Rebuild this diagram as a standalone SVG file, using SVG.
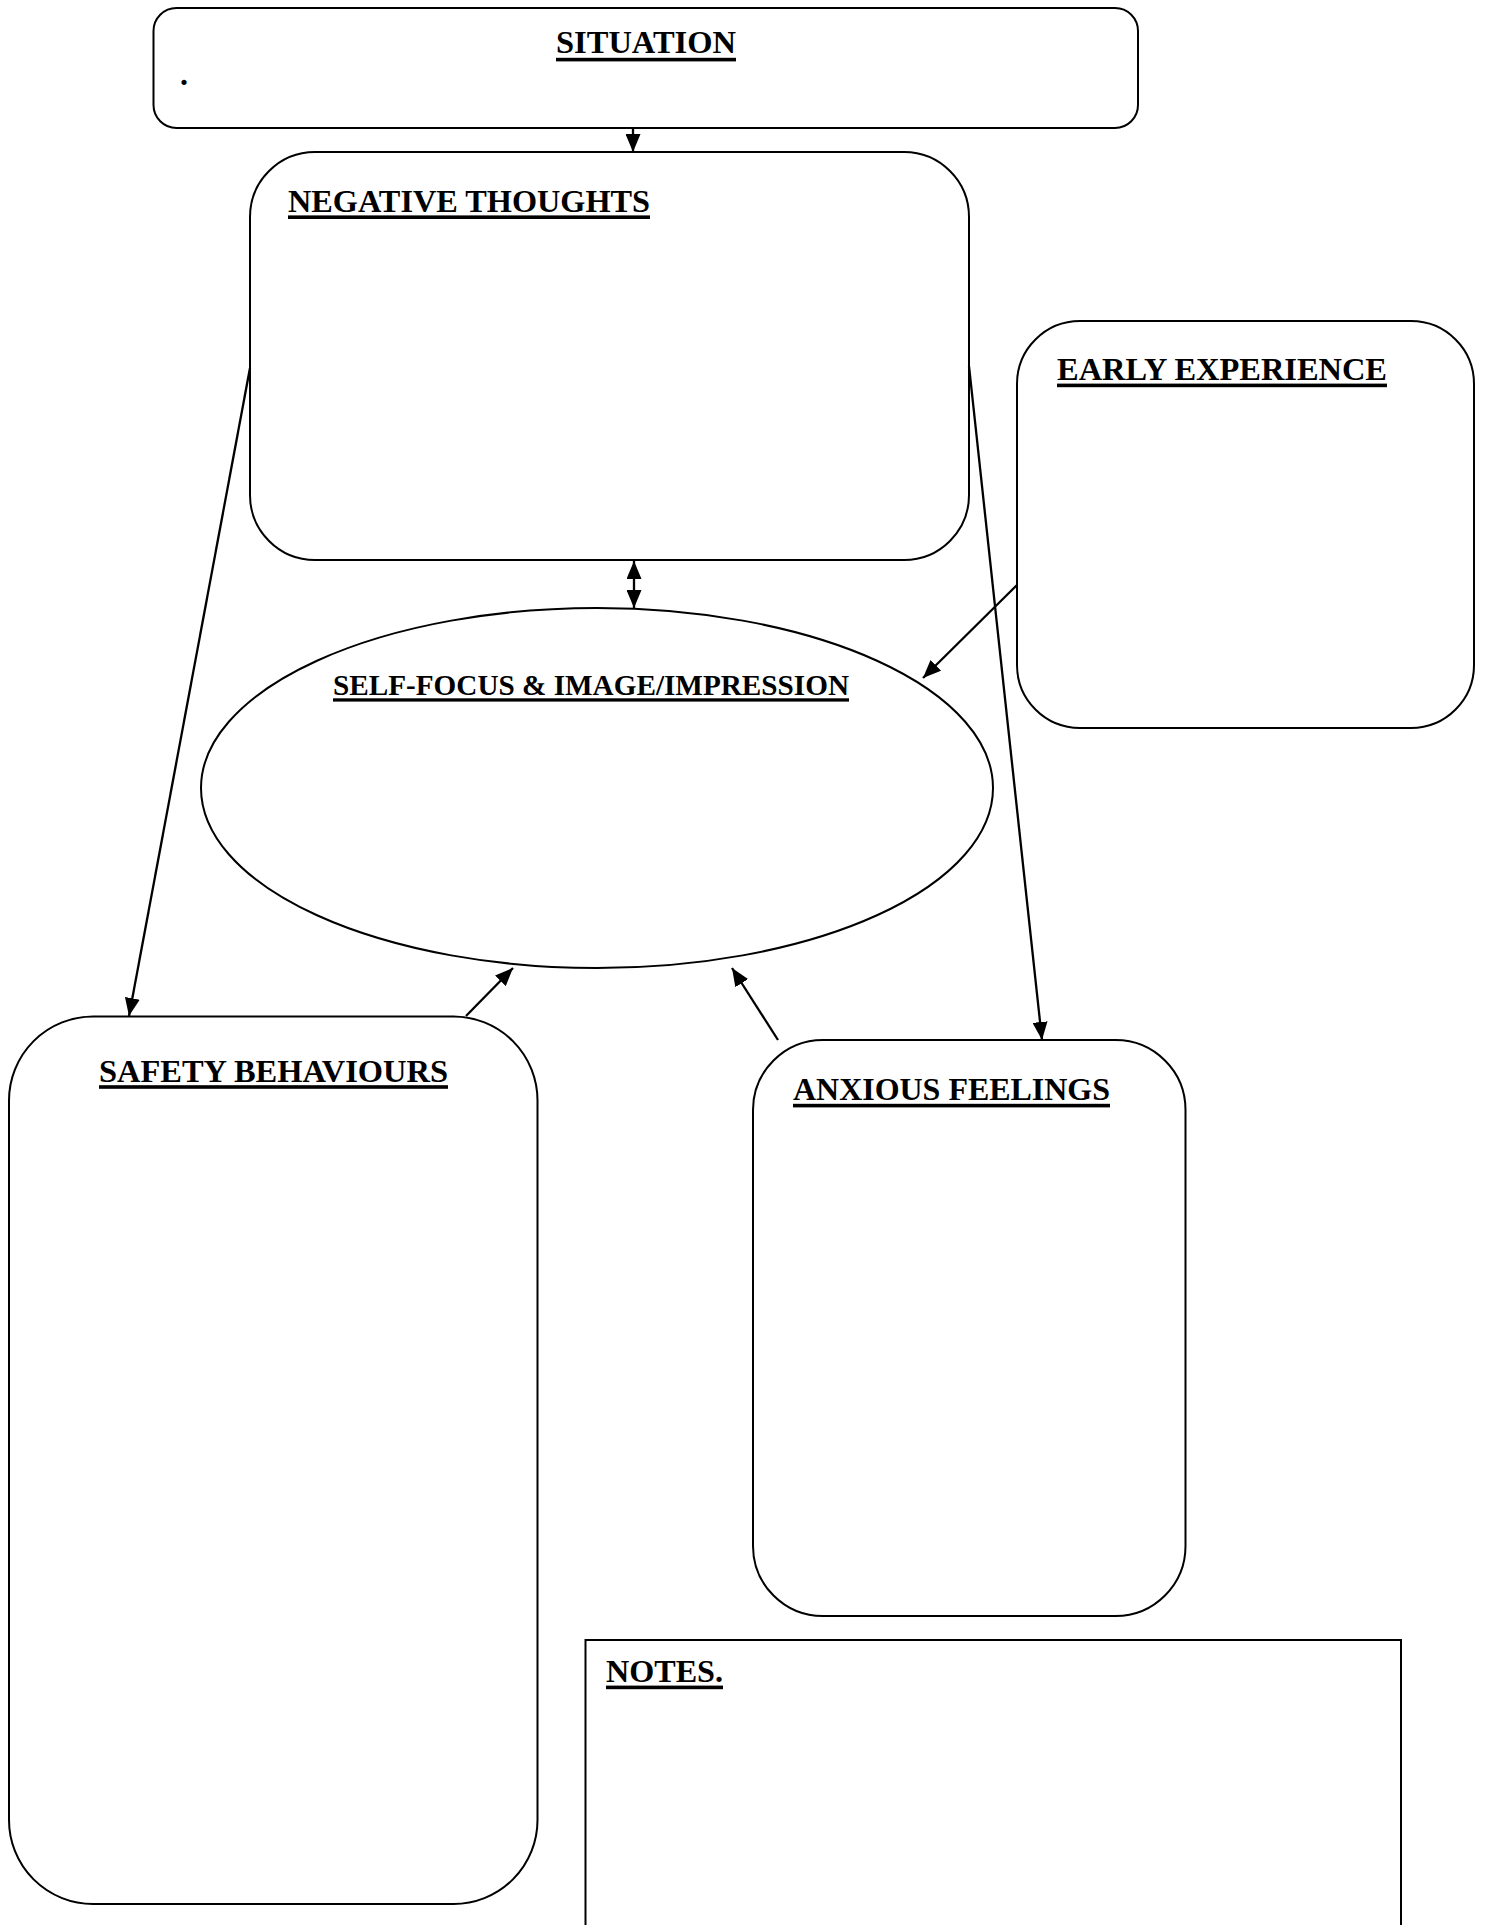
<svg xmlns="http://www.w3.org/2000/svg" width="1489" height="1925" viewBox="0 0 1489 1925">
  <style>
    .box { fill: #ffffff; stroke: #000000; stroke-width: 2; }
    .title { font-family: "Liberation Serif", "Times New Roman", serif; font-weight: bold; font-size: 32px; fill: #000000; }
    .uline { fill: #000000; }
    .link { stroke: #000000; stroke-width: 2.3; fill: none; }
  </style>
  <defs>
    <marker id="head" markerUnits="userSpaceOnUse" markerWidth="18" markerHeight="15" refX="18" refY="7.5" orient="auto-start-reverse">
      <path d="M0,0 L18,7.5 L0,15 z" fill="#000000"/>
    </marker>
  </defs>
  <rect width="1489" height="1925" fill="#ffffff"/>

  <!-- Situation -->
  <g id="situation">
    <rect class="box" x="153.5" y="8" width="984.5" height="120" rx="23" ry="23"/>
    <text class="title" x="556" y="53" textLength="180" lengthAdjust="spacingAndGlyphs">SITUATION</text>
    <rect class="uline" x="556" y="57.8" width="180" height="3.6"/>
    <text x="180" y="85" font-family="'Liberation Serif', 'Times New Roman', serif" font-size="32" font-weight="bold" fill="#000000">.</text>
  </g>

  <!-- Negative thoughts -->
  <g id="negative-thoughts">
    <rect class="box" x="250" y="152" width="719" height="408" rx="65" ry="65"/>
    <text class="title" x="288" y="211.7" textLength="362" lengthAdjust="spacingAndGlyphs">NEGATIVE THOUGHTS</text>
    <rect class="uline" x="288" y="215.4" width="362" height="3.6"/>
  </g>

  <!-- Early experience -->
  <g id="early-experience">
    <rect class="box" x="1017" y="321" width="457" height="407" rx="63" ry="63"/>
    <text class="title" x="1057" y="380" textLength="330" lengthAdjust="spacingAndGlyphs">EARLY EXPERIENCE</text>
    <rect class="uline" x="1057" y="383.6" width="330" height="3.6"/>
  </g>

  <!-- Self-focus ellipse -->
  <g id="self-focus">
    <ellipse class="box" cx="597" cy="788" rx="396" ry="180"/>
    <text class="title" x="333" y="695" style="font-size:29px" textLength="516" lengthAdjust="spacingAndGlyphs">SELF-FOCUS &amp; IMAGE/IMPRESSION</text>
    <rect class="uline" x="333" y="698.3" width="516" height="3.3"/>
  </g>

  <!-- Safety behaviours -->
  <g id="safety-behaviours">
    <rect class="box" x="9" y="1016.5" width="528.5" height="887.5" rx="84" ry="84"/>
    <text class="title" x="99" y="1081.7" textLength="349" lengthAdjust="spacingAndGlyphs">SAFETY BEHAVIOURS</text>
    <rect class="uline" x="99" y="1085.2" width="349" height="3.6"/>
  </g>

  <!-- Anxious feelings -->
  <g id="anxious-feelings">
    <rect class="box" x="753" y="1040" width="432.5" height="576" rx="70" ry="70"/>
    <text class="title" x="793" y="1100" textLength="317" lengthAdjust="spacingAndGlyphs">ANXIOUS FEELINGS</text>
    <rect class="uline" x="793" y="1103.8" width="317" height="3.6"/>
  </g>

  <!-- Notes -->
  <g id="notes">
    <rect class="box" x="585.5" y="1640" width="815.5" height="300"/>
    <text class="title" x="606" y="1681.7" textLength="117" lengthAdjust="spacingAndGlyphs">NOTES.</text>
    <rect class="uline" x="606" y="1685.6" width="117" height="3.6"/>
  </g>

  <!-- Connectors -->
  <g id="connectors">
    <line class="link" x1="633" y1="128" x2="633" y2="152" marker-end="url(#head)"/>
    <line class="link" x1="634" y1="561" x2="634" y2="608" marker-start="url(#head)" marker-end="url(#head)"/>
    <line class="link" x1="250" y1="368" x2="129" y2="1016" marker-end="url(#head)"/>
    <line class="link" x1="969" y1="366" x2="1042" y2="1040" marker-end="url(#head)"/>
    <line class="link" x1="1017" y1="585" x2="923" y2="678" marker-end="url(#head)"/>
    <line class="link" x1="466" y1="1016" x2="513" y2="968" marker-end="url(#head)"/>
    <line class="link" x1="778" y1="1040" x2="732" y2="968" marker-end="url(#head)"/>
  </g>
</svg>
